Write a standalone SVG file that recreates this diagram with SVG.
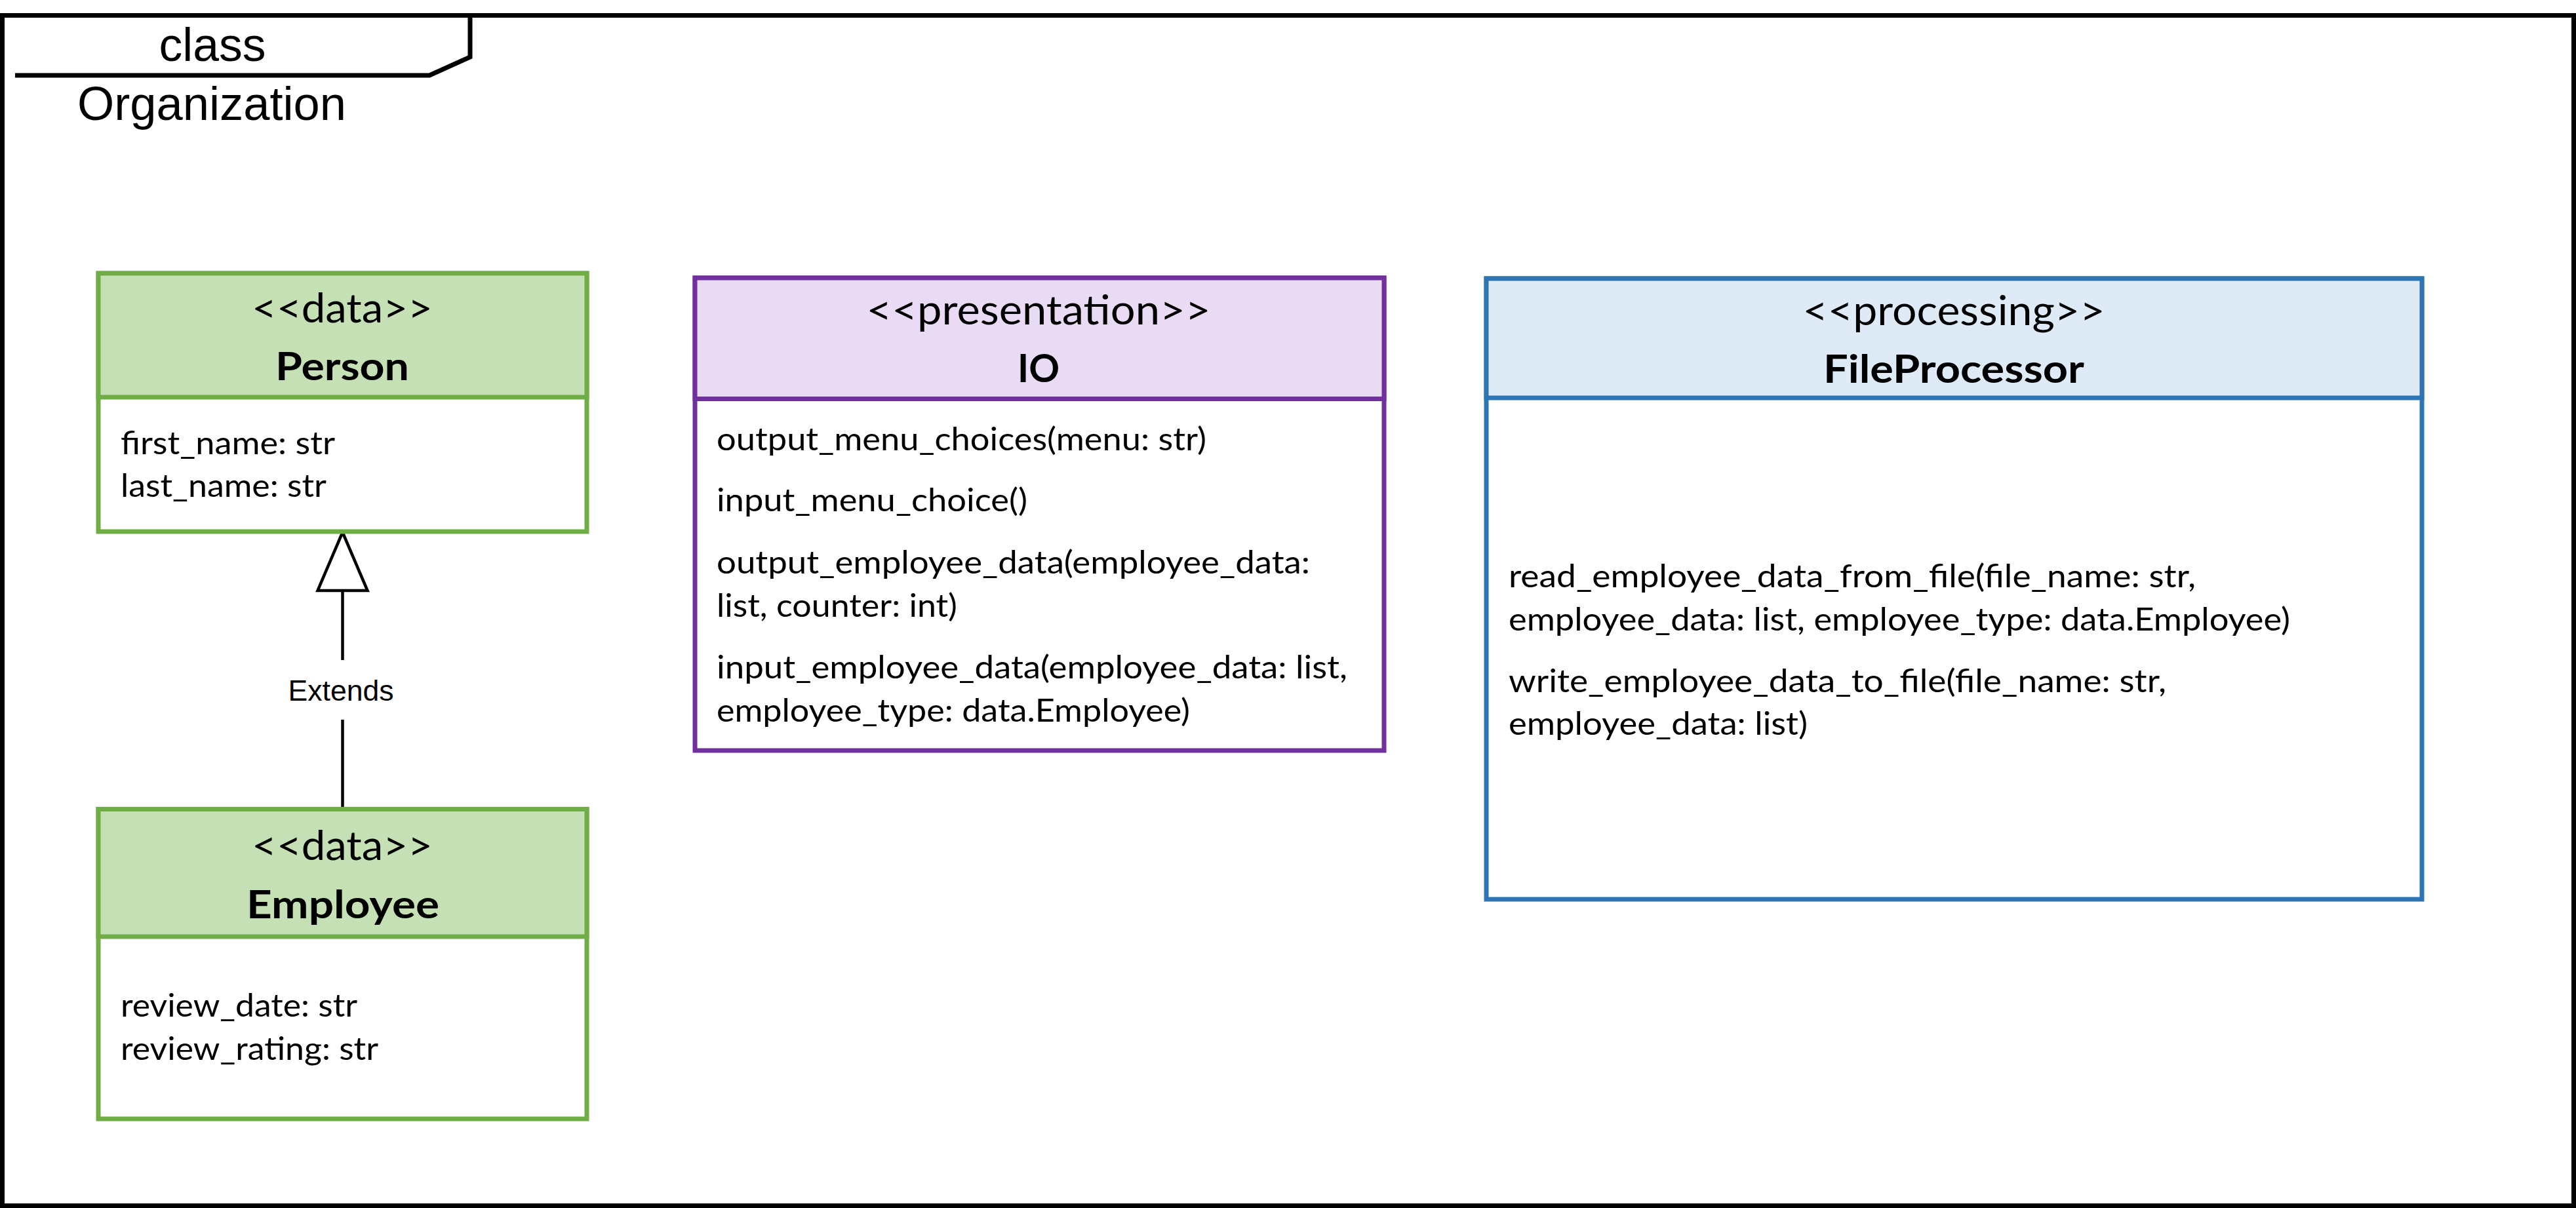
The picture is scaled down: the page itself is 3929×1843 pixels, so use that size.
<svg xmlns="http://www.w3.org/2000/svg" width="3929" height="1843" viewBox="0 0 3929 1843">
<style>
.frame{fill:#ffffff;stroke:#000000;stroke-width:7}
.tab{fill:none;stroke:#000000;stroke-width:7}
.ftxt{font-family:"Liberation Sans",Arial,sans-serif;font-size:72px;fill:#000000;text-anchor:middle}
.lbl{font-family:"Liberation Sans",Arial,sans-serif;font-size:44.7px;fill:#000000;text-anchor:middle}
.st{font-family:Lato,"Open Sans",sans-serif;font-size:61px;fill:#000000;text-anchor:middle}
.nm{font-family:Lato,"Open Sans",sans-serif;font-size:60px;font-weight:bold;fill:#000000;text-anchor:middle}
.mb{font-family:Lato,"Open Sans",sans-serif;font-size:48px;fill:#000000}
.green .hd{fill:#C5E0B4;stroke:#70AD47;stroke-width:7}
.green .bd{fill:#ffffff;stroke:#70AD47;stroke-width:7}
.purple .hd{fill:#E9DBF3;stroke:#7030A0;stroke-width:7}
.purple .bd{fill:#ffffff;stroke:#7030A0;stroke-width:7}
.blue .hd{fill:#DEEBF7;stroke:#2E75B6;stroke-width:7}
.blue .bd{fill:#ffffff;stroke:#2E75B6;stroke-width:7}
.edge{fill:none;stroke:#000000;stroke-width:4.5}
</style>
<defs>
<marker id="inherit" viewBox="-5 -5 99 86" refX="89" refY="38" markerWidth="99" markerHeight="86" markerUnits="userSpaceOnUse" orient="auto" overflow="visible">
<path d="M89,38 L0,0 L0,76 Z" fill="#ffffff" stroke="#000000" stroke-width="4.5" stroke-linejoin="miter"/>
</marker>
</defs>
<rect x="0" y="0" width="3929" height="1843" fill="#ffffff"/>
<g id="frame">
<rect class="frame" x="3.5" y="23.5" width="3922" height="1816"/>
<path class="tab" d="M23,115 L655,115 L717,87 L717,23.5"/>
<text class="ftxt" x="324" y="93" textLength="163" lengthAdjust="spacingAndGlyphs">class</text>
<text class="ftxt" x="323" y="183" textLength="410" lengthAdjust="spacingAndGlyphs">Organization</text>
</g>
<g id="connectors">
<path class="edge" d="M522.5,1234 L522.5,812" marker-end="url(#inherit)"/>
<rect x="430" y="1007" width="180" height="91" fill="#ffffff"/>
<text class="lbl" x="520" y="1069" textLength="161" lengthAdjust="spacingAndGlyphs">Extends</text>
</g>
<g id="person" class="green">
<rect class="bd" x="150" y="417" width="745" height="394"/>
<rect class="hd" x="150" y="417" width="745" height="189"/>
<text class="st" x="522" y="492" textLength="276" lengthAdjust="spacingAndGlyphs">&lt;&lt;data&gt;&gt;</text>
<text class="nm" x="522" y="580" textLength="204" lengthAdjust="spacingAndGlyphs">Person</text>
<text class="mb" x="184" y="693" textLength="327" lengthAdjust="spacingAndGlyphs">first_name: str</text>
<text class="mb" x="184" y="758" textLength="314" lengthAdjust="spacingAndGlyphs">last_name: str</text>
</g>
<g id="employee" class="green">
<rect class="bd" x="150" y="1234.5" width="745" height="472.5"/>
<rect class="hd" x="150" y="1234.5" width="745" height="194.5"/>
<text class="st" x="522" y="1311.5" textLength="276" lengthAdjust="spacingAndGlyphs">&lt;&lt;data&gt;&gt;</text>
<text class="nm" x="523" y="1400.6" textLength="294" lengthAdjust="spacingAndGlyphs">Employee</text>
<text class="mb" x="184" y="1551" textLength="361" lengthAdjust="spacingAndGlyphs">review_date: str</text>
<text class="mb" x="184" y="1617" textLength="393" lengthAdjust="spacingAndGlyphs">review_rating: str</text>
</g>
<g id="io" class="purple">
<rect class="bd" x="1060" y="424" width="1051" height="721"/>
<rect class="hd" x="1060" y="424" width="1051" height="184.5"/>
<text class="st" x="1584" y="494.5" textLength="525" lengthAdjust="spacingAndGlyphs">&lt;&lt;presentation&gt;&gt;</text>
<text class="nm" x="1584" y="583" textLength="64" lengthAdjust="spacingAndGlyphs">IO</text>
<text class="mb" x="1093" y="686.7" textLength="747" lengthAdjust="spacingAndGlyphs">output_menu_choices(menu: str)</text>
<text class="mb" x="1093" y="780" textLength="474" lengthAdjust="spacingAndGlyphs">input_menu_choice()</text>
<text class="mb" x="1093" y="875" textLength="905" lengthAdjust="spacingAndGlyphs">output_employee_data(employee_data:</text>
<text class="mb" x="1093" y="941" textLength="367" lengthAdjust="spacingAndGlyphs">list, counter: int)</text>
<text class="mb" x="1093" y="1035" textLength="962" lengthAdjust="spacingAndGlyphs">input_employee_data(employee_data: list,</text>
<text class="mb" x="1093" y="1101" textLength="722" lengthAdjust="spacingAndGlyphs">employee_type: data.Employee)</text>
</g>
<g id="fileprocessor" class="blue">
<rect class="bd" x="2267" y="425" width="1427" height="947"/>
<rect class="hd" x="2267" y="425" width="1427" height="182"/>
<text class="st" x="2980" y="495.7" textLength="461" lengthAdjust="spacingAndGlyphs">&lt;&lt;processing&gt;&gt;</text>
<text class="nm" x="2980" y="583.7" textLength="398" lengthAdjust="spacingAndGlyphs">FileProcessor</text>
<text class="mb" x="2301" y="896" textLength="1048" lengthAdjust="spacingAndGlyphs">read_employee_data_from_file(file_name: str,</text>
<text class="mb" x="2301" y="962" textLength="1192" lengthAdjust="spacingAndGlyphs">employee_data: list, employee_type: data.Employee)</text>
<text class="mb" x="2301" y="1056" textLength="1003" lengthAdjust="spacingAndGlyphs">write_employee_data_to_file(file_name: str,</text>
<text class="mb" x="2301" y="1121" textLength="456" lengthAdjust="spacingAndGlyphs">employee_data: list)</text>
</g>
</svg>
